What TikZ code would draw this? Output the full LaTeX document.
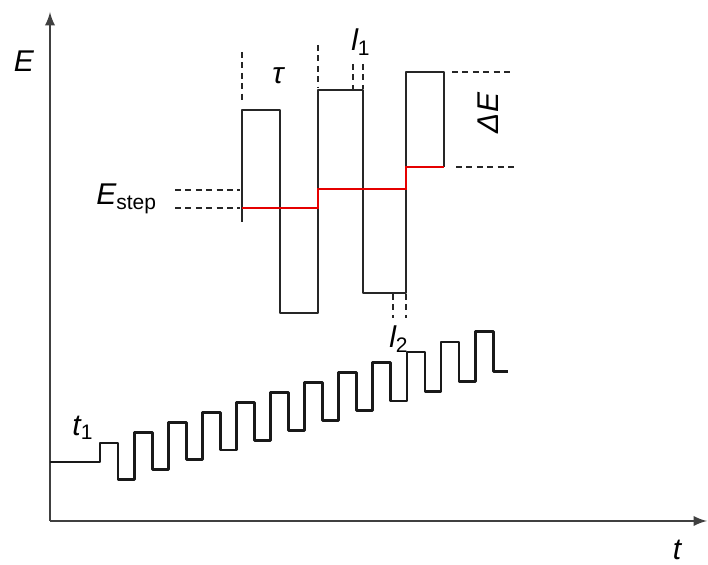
\documentclass[tikz,border=0pt]{standalone}
\usepackage{fontspec}
\setmainfont{Liberation Sans}
\tikzset{
  axis/.style={line width=1.3pt, black!75, -latex},
  pulse/.style={line width=1pt, black!85, line join=round},
  level/.style={line width=1pt, red!90!black},
  guide/.style={line width=0.9pt, black!85, dash pattern=on 3pt off 2.2pt},
  stair/.style={line width=1.4pt, black!90, line join=round},
  lbl/.style={font=\fontsize{15}{17}\selectfont\itshape, inner sep=0pt}
}

\begin{document}
\begin{tikzpicture}[x=0.5pt, y=-0.5pt]
  \useasboundingbox (0,0) rectangle (708,565);
  % axes
  \coordinate (origin) at (50,521);
  \coordinate (ytip) at (50,12);
  \coordinate (xtip) at (707,521);
  \draw[axis] (origin) -- (ytip);
  \draw[axis] (origin) -- (xtip);
  \node[lbl] (lblE) at (24,61) {E};
  \node[lbl] (lblt) at (677,550) {t};

  % pulse detail
  \draw[pulse] (242,222) -- (242,110) -- (280,110) -- (280,313) -- (318,313)
    -- (318,90) -- (363,90) -- (363,293) -- (406,293) -- (406,72) -- (444,72) -- (444,167);
  \draw[level] (242,208) -- (318,208) -- (318,189) -- (406,189) -- (406,167) -- (444,167);

  % guide lines
  \draw[guide] (242,52) -- (242,101);
  \draw[guide] (318,45) -- (318,87);
  \draw[guide] (353,64) -- (353,89);
  \draw[guide] (363,64) -- (363,89);
  \draw[guide] (393,294) -- (393,318);
  \draw[guide] (406,294) -- (406,318);
  \draw[guide] (452,72) -- (514,72);
  \draw[guide] (456,167) -- (517,167);
  \draw[guide] (175,190) -- (240,190);
  \draw[guide] (175,208) -- (240,208);

  \node[lbl] (lbltau) at (278,76) {τ};
  \node[lbl] (lblIone) at (361,42) {l\textsubscript{\upshape 1}};
  \node[lbl] (lblItwo) at (399,339) {l\textsubscript{\upshape 2}};
  \node[lbl, rotate=90] (lblDE) at (488,113) {ΔE};
  \node[lbl, anchor=base west] (lblEstep) at (96,205) {E\textsubscript{\upshape step}};

  % staircase waveform
  \draw[stair] (50,462) \foreach \i in {0,...,11}{
      -| ({100+34.1*\i},{443-10.1*\i}) -| ({118+34.1*\i},{479.5-9.8*\i})
    } -- ++(15,0);
  \node[lbl] (lbltone) at (83,428) {t\textsubscript{\upshape 1}};
\end{tikzpicture}
\end{document}
